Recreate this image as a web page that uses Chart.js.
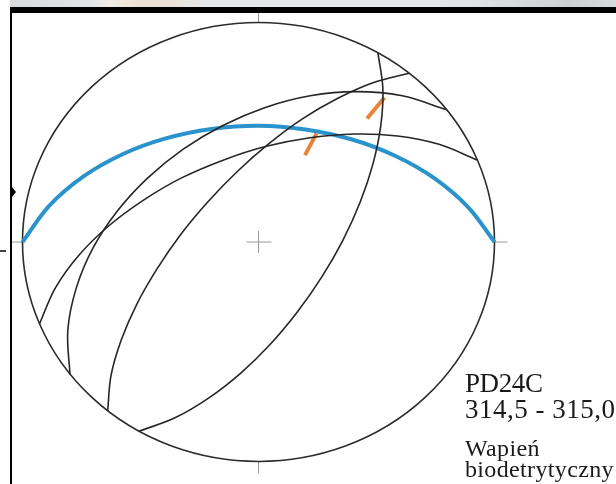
<!DOCTYPE html>
<html><head><meta charset="utf-8">
<script src="https://cdn.jsdelivr.net/npm/chart.js@4.4.0/dist/chart.umd.min.js"></script>
<style>
html,body{margin:0;padding:0;background:#fff;}
#wrap{position:relative;width:616px;height:484px;overflow:hidden;background:#fff;}
#strip{position:absolute;left:10px;top:0;width:606px;height:7px;background:linear-gradient(to right,#d8dadc 0px,#e3e4e5 80px,#f0ebe6 100px,#eee1d5 130px,#ebe2da 165px,#e6e7e8 190px,#e4e6e8 420px,#dfe1e3 470px,#cdd0d3 560px,#d7d9db 606px);}
#bar{position:absolute;left:10px;top:7px;width:606px;height:5.5px;background:#000;}
#vline{position:absolute;left:10px;top:7px;width:2px;height:477px;background:#000;}
#arrow{position:absolute;left:12px;top:187px;width:0;height:0;border-top:5px solid transparent;border-bottom:5px solid transparent;border-left:4px solid #000;}
#dash{position:absolute;left:0;top:250px;width:6px;height:2px;background:#444;}
canvas{position:absolute;left:0;top:0;}
.lbl{position:absolute;left:465px;font-family:"Liberation Serif","Times New Roman",serif;color:#1a1a1a;white-space:nowrap;line-height:1;}
</style></head>
<body><div id="wrap">
<canvas id="c" width="616" height="484"></canvas>
<div id="strip"></div><div id="bar"></div><div id="vline"></div><div id="arrow"></div><div id="dash"></div>
<div class="lbl" style="top:370px;font-size:27px;letter-spacing:-0.4px">PD24C</div>
<div class="lbl" style="top:396px;font-size:27px;letter-spacing:0.5px">314,5 - 315,0</div>
<div class="lbl" style="top:436px;font-size:24px;letter-spacing:0.35px">Wapień</div>
<div class="lbl" style="top:457px;font-size:24px;letter-spacing:0.35px">biodetrytyczny</div>
</div>
<script>
// Equal-area stereonet coordinates (u = east, v = north), primitive radius = 1
const beddingPlane = [[-1,0],[-0.887,0.165],[-0.743,0.298],[-0.576,0.400],[-0.393,0.472],[-0.199,0.515],[0,0.530],[0.199,0.513],[0.393,0.468],[0.576,0.394],[0.743,0.292],[0.887,0.160],[1,0]];
const planeA = [[0.799,0.602],[0.609,0.666],[0.414,0.685],[0.219,0.666],[0.029,0.613],[-0.151,0.531],[-0.319,0.423],[-0.469,0.292],[-0.598,0.141],[-0.701,-0.027],[-0.772,-0.209],[-0.808,-0.402],[-0.799,-0.602]];
const planeB = [[0.639,0.769],[0.485,0.726],[0.334,0.654],[0.186,0.561],[0.044,0.448],[-0.091,0.320],[-0.217,0.180],[-0.332,0.031],[-0.432,-0.126],[-0.517,-0.286],[-0.582,-0.448],[-0.625,-0.609],[-0.639,-0.769]];
const planeC = [[0.928,0.373],[0.765,0.445],[0.589,0.483],[0.406,0.492],[0.219,0.475],[0.033,0.436],[-0.150,0.373],[-0.326,0.292],[-0.487,0.191],[-0.634,0.074],[-0.760,-0.059],[-0.860,-0.208],[-0.928,-0.373]];
const planeD = [[0.506,0.862],[0.527,0.699],[0.518,0.529],[0.485,0.356],[0.431,0.182],[0.358,0.009],[0.269,-0.158],[0.166,-0.317],[0.051,-0.465],[-0.075,-0.597],[-0.210,-0.710],[-0.354,-0.801],[-0.506,-0.862]];
const striation1 = [[0.197,0.396],[0.246,0.495]];
const striation2 = [[0.460,0.563],[0.534,0.658]];

const toXY = arr => arr.map(p => ({x:p[0], y:p[1]}));
const blackPlanes = [planeA, planeB, planeC, planeD];

const datasets = [];
blackPlanes.forEach((pl,i) => datasets.push({label:'plane '+(i+1), data:toXY(pl), showLine:true, tension:0.35, borderColor:'#262626', borderWidth:1.6, pointRadius:0, clip:false}));
datasets.push({label:'bedding', data:toXY(beddingPlane), showLine:true, tension:0.35, borderColor:'#2a93cc', borderWidth:4, pointRadius:0, clip:false});
[striation1, striation2].forEach((s,i) => datasets.push({label:'striation '+(i+1), data:toXY(s), showLine:true, tension:0, borderColor:'#e8843a', borderWidth:4, pointRadius:0, clip:false}));

const netPlugin = {
  id:'net',
  beforeDatasetsDraw(chart){
    const {ctx, scales:{x,y}} = chart;
    const cx = x.getPixelForValue(0), cy = y.getPixelForValue(0);
    const rx = x.getPixelForValue(1) - cx, ry = cy - y.getPixelForValue(1);
    ctx.save();
    ctx.strokeStyle = '#9a9a9a'; ctx.lineWidth = 1;
    ctx.beginPath();
    ctx.moveTo(cx-12, cy); ctx.lineTo(cx+13, cy);
    ctx.moveTo(cx, cy-11); ctx.lineTo(cx, cy+11);
    ctx.moveTo(cx, cy-ry); ctx.lineTo(cx, cy-ry-11);
    ctx.moveTo(cx, cy+ry); ctx.lineTo(cx, cy+ry+12);
    ctx.moveTo(cx+rx, cy); ctx.lineTo(cx+rx+13, cy);
    ctx.moveTo(cx-rx, cy); ctx.lineTo(cx-rx-11, cy);
    ctx.stroke();
    ctx.strokeStyle = '#2b2b2b'; ctx.lineWidth = 1.6;
    ctx.beginPath();
    ctx.ellipse(cx, cy, rx, ry, 0, 0, Math.PI*2);
    ctx.stroke();
    ctx.restore();
  }
};

new Chart(document.getElementById('c'), {
  type:'scatter',
  data:{datasets},
  options:{
    responsive:false, animation:false,
    layout:{padding:{left:22.5, right:121.5, top:22.5, bottom:22.5}},
    plugins:{legend:{display:false}, tooltip:{enabled:false}},
    scales:{
      x:{type:'linear', min:-1, max:1, display:false},
      y:{type:'linear', min:-1, max:1, display:false}
    }
  },
  plugins:[netPlugin]
});
</script>
</body></html>
